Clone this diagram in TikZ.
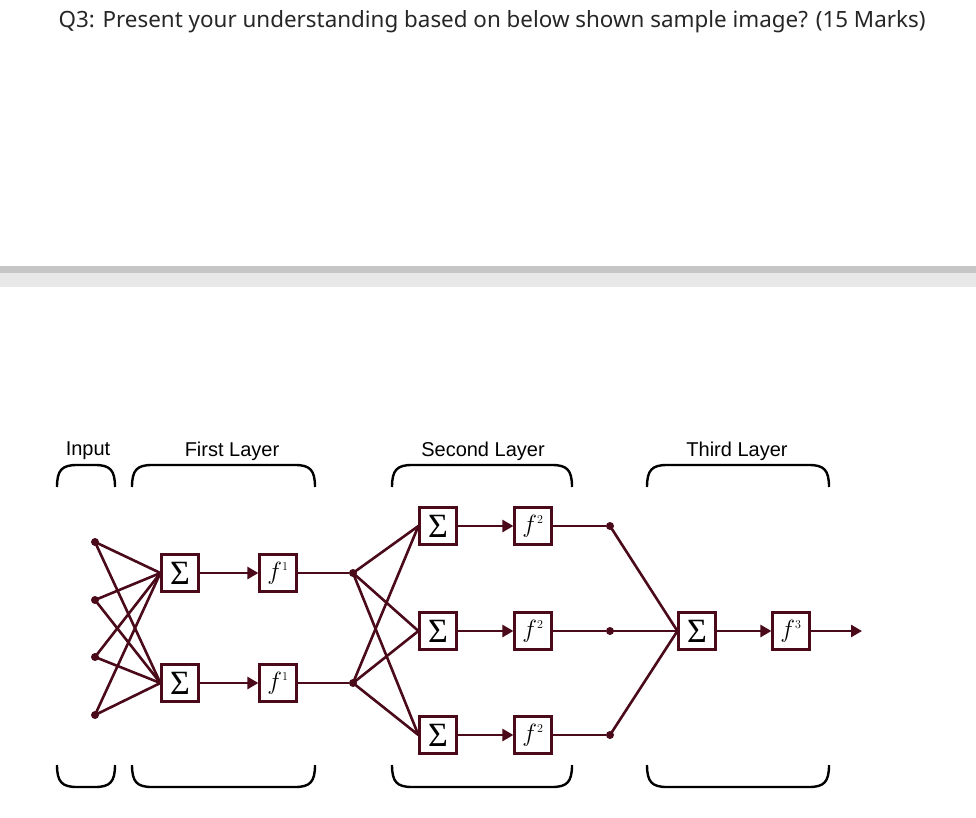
\documentclass[tikz,border=0pt]{standalone}
\usepackage{fontspec}
\setmainfont{Liberation Sans}
\newfontfamily\titlefont{Noto Sans}
\newfontfamily\sigfont{Liberation Serif}
\usetikzlibrary{arrows.meta}
\definecolor{mar}{HTML}{4A0A1A}
\newcommand{\sg}{{\sigfont\fontsize{34}{34}\selectfont Σ}}
\begin{document}
\begin{tikzpicture}[x=1pt,y=-1pt,
  blk/.style={draw=mar,line width=2.2pt,fill=white,minimum width=37pt,minimum height=37pt,inner sep=0pt,font=\fontsize{26}{28}\selectfont},
  dot/.style={circle,fill=mar,inner sep=0pt,minimum size=8pt},
  wire/.style={draw=mar,line width=2.6pt},
  arr/.style={wire,-{Triangle[length=11pt,width=12pt]}},
  brk/.style={draw=black,line width=2.4pt},
  lab/.style={font=\fontsize{20}{22}\selectfont}]
\useasboundingbox (0,0) rectangle (976,818);
\node[anchor=west,font=\fontsize{22.4}{25}\titlefont,text=black!85] (title) at (55,22) {Q3: Present your understanding based on below shown sample image? (15 Marks)};
\fill[gray!45] (0,266) rectangle (976,273);
\fill[gray!18] (0,273) rectangle (976,287);
% labels
\node[lab] (lin) at (88,451) {Input};
\node[lab] (l1) at (232,451) {First Layer};
\node[lab] (l2) at (483,451) {Second Layer};
\node[lab] (l3) at (737,451) {Third Layer};
% brackets
\foreach \a/\b in {57/115,132/315,392/572,647/829}{
  \draw[brk] (\a,487) .. controls (\a,470) and (\a+5,465) .. (\a+20,465) -- (\b-20,465) .. controls (\b-5,465) and (\b,470) .. (\b,487);
  \draw[brk] (\a,765) .. controls (\a,782) and (\a+5,787) .. (\a+20,787) -- (\b-20,787) .. controls (\b-5,787) and (\b,782) .. (\b,765);
}
% inputs
\foreach \i/\y in {1/542,2/600,3/657,4/715} \node[dot] (p\i) at (95,\y) {};
% first layer
\foreach \i/\y in {1/573,2/683}{
  \node[blk] (s\i) at (180,\y) {\sg};
  \node[blk] (f\i) at (278,\y) {$f^{\scriptscriptstyle 1}$};
  \node[dot] (h\i) at (353,\y) {};
  \draw[arr] (s\i) -- (f\i);
  \draw[wire] (f\i) -- (h\i);
  \foreach \j in {1,2,3,4} \draw[wire] (p\j.center) -- (s\i.west);
}
% second layer
\foreach \i/\y in {1/526,2/631,3/735}{
  \node[blk] (t\i) at (438,\y) {\sg};
  \node[blk] (g\i) at (533,\y) {$f^{\scriptscriptstyle 2}$};
  \node[dot] (k\i) at (610,\y) {};
  \draw[arr] (t\i) -- (g\i);
  \draw[wire] (g\i) -- (k\i);
  \foreach \j in {1,2} \draw[wire] (h\j.center) -- (t\i.west);
}
% third layer
\node[blk] (u) at (697,631) {\sg};
\node[blk] (v) at (791,631) {$f^{\scriptscriptstyle 3}$};
\coordinate (out) at (862,631);
\foreach \j in {1,2,3} \draw[wire] (k\j.center) -- (u.west);
\draw[arr] (u) -- (v);
\draw[arr] (v) -- (out);
\end{tikzpicture}
\end{document}
